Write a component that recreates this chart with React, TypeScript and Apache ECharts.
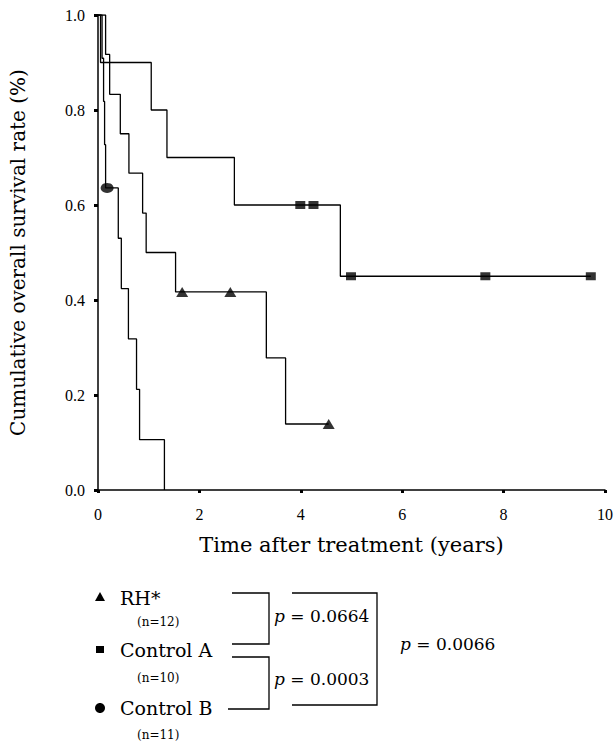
import React, { useEffect, useRef } from "react";
import * as echarts from "echarts";

// Kaplan–Meier step points (time in years, survival proportion)
const rhTimes = [0, 0.15, 0.23, 0.44, 0.61, 0.88, 0.95, 1.53, 3.32, 3.7, 4.55];
const rhSurv = [1, 0.917, 0.833, 0.75, 0.667, 0.583, 0.5, 0.417, 0.278, 0.139, 0.139];
const rhCensorTimes = [1.66, 2.61, 4.55];
const rhCensorSurv = [0.417, 0.417, 0.139];

const ctrlATimes = [0, 0.05, 1.05, 1.36, 2.69, 4.78, 9.72];
const ctrlASurv = [1, 0.9, 0.8, 0.7, 0.6, 0.45, 0.45];
const ctrlACensorTimes = [3.99, 4.25, 4.99, 7.64, 9.72];
const ctrlACensorSurv = [0.6, 0.6, 0.45, 0.45, 0.45];

const ctrlBTimes = [0, 0.08, 0.11, 0.13, 0.15, 0.4, 0.46, 0.6, 0.76, 0.82, 1.31];
const ctrlBSurv = [1, 0.909, 0.818, 0.727, 0.636, 0.53, 0.424, 0.318, 0.212, 0.106, 0];
const ctrlBCensorTimes = [0.18];
const ctrlBCensorSurv = [0.636];

const groupNames = ["RH*", "Control A", "Control B"];
const groupNs = ["(n=12)", "(n=10)", "(n=11)"];
const pValues = ["0.0664", "0.0003", "0.0066"];

const zip = (a: number[], b: number[]) => a.map((v, i) => [v, b[i]]);

const SERIF = "'DejaVu Serif', 'Liberation Serif', serif";
const TIMES = "'Liberation Serif', 'DejaVu Serif', serif";

export default function App() {
  const ref = useRef<HTMLDivElement>(null);
  useEffect(() => {
    if (!ref.current) return;
    const chart = echarts.init(ref.current, null, { renderer: "svg" });
    const lineBase = {
      type: "line",
      step: "end",
      showSymbol: false,
      symbol: "none",
      lineStyle: { color: "#000", width: 1.3 },
      silent: true,
    };
    const scatterBase = {
      type: "scatter",
      itemStyle: { color: "#000" },
      silent: true,
      z: 5,
    };
    const lw = { stroke: "#000", lineWidth: 1.3, fill: "none" };
    const txt = (x: number, y: number, text: string, size: number, extra: any = {}) => ({
      type: "text",
      x,
      y,
      style: {
        text,
        font: `${size}px ${SERIF}`,
        fill: "#000",
        verticalAlign: "middle",
        ...extra,
      },
    });
    const pText = (x: number, y: number, v: string) => ({
      type: "text",
      x,
      y,
      style: {
        text: `{i|p} = ${v}`,
        fill: "#000",
        verticalAlign: "middle",
        font: `17px ${SERIF}`,
        rich: {
          i: { fontStyle: "italic", fontFamily: SERIF, fontSize: 17, fill: "#000" },
        },
      },
    });
    const option: any = {
      animation: false,
      grid: { left: 94, right: 8, top: 15, bottom: 255 },
      xAxis: {
        type: "value",
        min: 0,
        max: 10,
        interval: 2,
        name: "Time after treatment (years)",
        nameLocation: "middle",
        nameGap: 44,
        nameTextStyle: { fontFamily: SERIF, fontSize: 21, color: "#000" },
        axisLine: { lineStyle: { color: "#000", width: 1.5 } },
        axisTick: { show: true, length: 3, lineStyle: { color: "#000", width: 3 } },
        axisLabel: { fontFamily: TIMES, fontSize: 16, color: "#000", margin: 16 },
        splitLine: { show: false },
      },
      yAxis: {
        type: "value",
        min: 0,
        max: 1,
        interval: 0.2,
        name: "Cumulative overall survival rate (%)",
        nameLocation: "middle",
        nameGap: 70,
        nameTextStyle: { fontFamily: SERIF, fontSize: 20, color: "#000" },
        axisLine: { show: true, lineStyle: { color: "#000", width: 1.5 } },
        axisTick: { show: true, length: 4, lineStyle: { color: "#000", width: 3 } },
        axisLabel: {
          fontFamily: TIMES,
          fontSize: 16,
          color: "#000",
          margin: 13,
          formatter: (v: number) => v.toFixed(1),
        },
        splitLine: { show: false },
      },
      series: [
        { ...lineBase, name: "RH", data: zip(rhTimes, rhSurv) },
        { ...lineBase, name: "Control A", data: zip(ctrlATimes, ctrlASurv) },
        { ...lineBase, name: "Control B", data: zip(ctrlBTimes, ctrlBSurv) },
        {
          ...scatterBase,
          symbol: "triangle",
          symbolSize: [12, 10],
          data: zip(rhCensorTimes, rhCensorSurv),
        },
        {
          ...scatterBase,
          symbol: "rect",
          symbolSize: [10, 8],
          data: zip(ctrlACensorTimes, ctrlACensorSurv),
        },
        {
          ...scatterBase,
          symbol: "circle",
          symbolSize: [13, 10],
          data: zip(ctrlBCensorTimes, ctrlBCensorSurv),
        },
      ],
      graphic: [
        // legend symbols
        {
          type: "polygon",
          shape: { points: [[100, 592], [105, 601], [95, 601]] },
          style: { fill: "#000" },
        },
        { type: "rect", shape: { x: 96, y: 646, width: 8, height: 7 }, style: { fill: "#000" } },
        { type: "ellipse", shape: { cx: 100, cy: 708, rx: 5, ry: 5 }, style: { fill: "#000" } },
        txt(120, 598, groupNames[0], 19),
        txt(137, 622, groupNs[0], 12),
        txt(120, 650, groupNames[1], 19),
        txt(137, 678, groupNs[1], 12),
        txt(120, 708, groupNames[2], 19),
        txt(137, 735, groupNs[2], 12),
        // brackets
        {
          type: "polyline",
          shape: { points: [[232, 593], [269, 593], [269, 644], [232, 644]] },
          style: lw,
        },
        {
          type: "polyline",
          shape: { points: [[232, 657], [269, 657], [269, 709], [228, 709]] },
          style: lw,
        },
        {
          type: "polyline",
          shape: { points: [[292, 593], [377, 593], [377, 705], [292, 705]] },
          style: lw,
        },
        pText(274, 616, pValues[0]),
        pText(274, 679, pValues[1]),
        pText(400, 644, pValues[2]),
      ],
    };
    chart.setOption(option);
    return () => chart.dispose();
  }, []);
  return (
    <div
      ref={ref}
      style={{ position: "fixed", left: 0, top: 0, width: 616, height: 745, background: "#fff" }}
    />
  );
}
